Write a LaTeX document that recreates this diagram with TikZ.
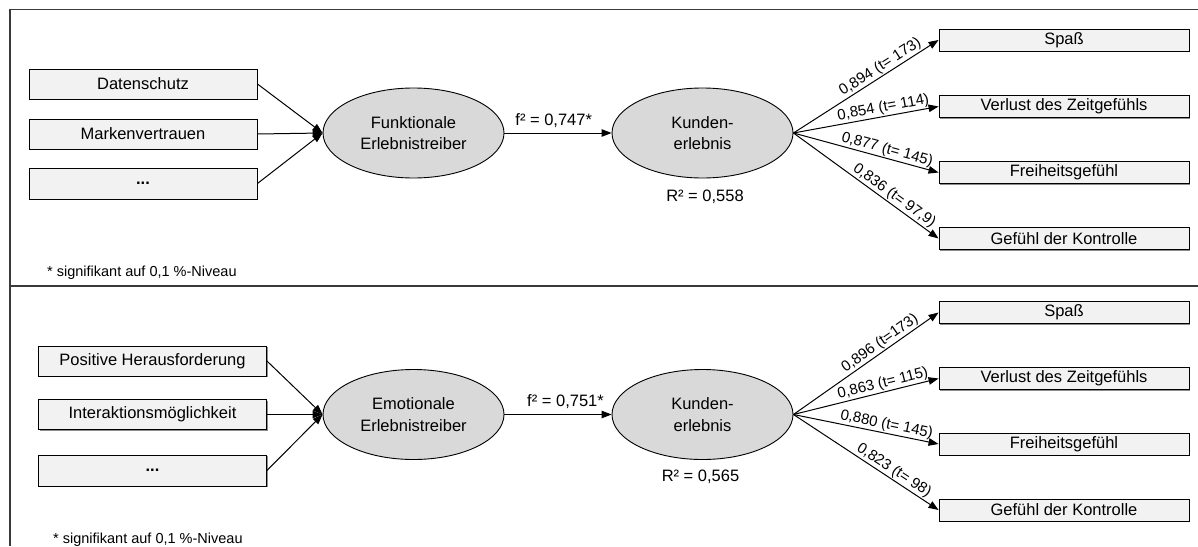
\documentclass[tikz,border=0pt]{standalone}
\usepackage{fontspec}
\setmainfont{Liberation Sans}
\usetikzlibrary{arrows.meta,shadows,shapes.geometric}
\definecolor{boxfill}{HTML}{F2F2F2}
\definecolor{ellfill}{HTML}{D9D9D9}
\definecolor{framecol}{HTML}{3A3A3A}
\begin{document}
\begin{tikzpicture}[x=1pt,y=-1pt,
 ind/.style={draw=black, line width=0.9pt, fill=boxfill, minimum width=228pt, minimum height=30pt, inner sep=0pt,
   font=\fontsize{16.5}{20}\selectfont,
   drop shadow={shadow xshift=1.2pt,shadow yshift=-1.2pt,fill=black!45,opacity=1}},
 outbox/.style={ind, minimum width=250pt, minimum height=22pt},
 lat/.style={ellipse, draw=black, fill=ellfill, line width=0.9pt, minimum width=181pt, minimum height=90pt,
   inner sep=0pt, align=center, font=\fontsize{16.5}{21.5}\selectfont},
 arr/.style={line width=1pt, -{Triangle[length=10pt,width=7.5pt]}},
 lab/.style={sloped, above, pos=0.63, font=\fontsize{15}{16}\selectfont, inner sep=1pt},
 plain/.style={font=\fontsize{16.5}{20}\selectfont, inner sep=0pt},
 note/.style={font=\fontsize{14.5}{16}\selectfont, anchor=west, inner sep=0pt}
]
\useasboundingbox (0,0) rectangle (1198,546);
% frame
\draw[framecol, line width=1.5pt] (1198,9.5) -- (10,9.5) -- (10,546);
\draw[framecol, line width=1.5pt] (10,286) -- (1198,286);

% ---------- top panel ----------
\node[ind] (d1) at (143,84) {Datenschutz};
\node[ind] (d2) at (143,134) {Markenvertrauen};
\node[ind, minimum height=31pt] (d3) at (143,183.5) {\textbf{...}};
\node[lat] (F) at (413.5,133) {Funktionale\\Erlebnistreiber};
\node[lat] (K) at (702.5,133) {Kunden-\\erlebnis};
\node[outbox] (o1) at (1064,40) {Spaß};
\node[outbox] (o2) at (1064,106.5) {Verlust des Zeitgefühls};
\node[outbox] (o3) at (1064,172.5) {Freiheitsgefühl};
\node[outbox] (o4) at (1064,238.5) {Gefühl der Kontrolle};
\node[plain] (r1) at (705,196.5) {R² = 0,558};
\node[note] (n1) at (47,273) {* signifikant auf 0,1 \%-Niveau};

\draw[arr] (d1.east) -- (F.west);
\draw[arr] (d2.east) -- (F.west);
\draw[arr] (d3.east) -- (F.west);
\draw[arr] (F.east) -- node[plain, above=5pt, pos=0.46]{f² = 0,747*} (K.west);
\draw[arr] (K.east) -- node[lab]{0,894 (t= 173)} (o1.west);
\draw[arr] (K.east) -- node[lab]{0,854 (t= 114)} (o2.west);
\draw[arr] (K.east) -- node[lab]{0,877 (t= 145)} (o3.west);
\draw[arr] (K.east) -- node[lab, pos=0.66]{0,836 (t= 97,9)} (o4.west);

% ---------- bottom panel ----------
\node[ind] (e1) at (152.5,361) {Positive Herausforderung};
\node[ind] (e2) at (152.5,414.5) {Interaktionsmöglichkeit};
\node[ind, minimum height=31pt] (e3) at (152.5,470.5) {\textbf{...}};
\node[lat] (E) at (413.5,414.5) {Emotionale\\Erlebnistreiber};
\node[lat] (K2) at (702.5,414.5) {Kunden-\\erlebnis};
\node[outbox] (p1) at (1064,312.5) {Spaß};
\node[outbox] (p2) at (1064,378.5) {Verlust des Zeitgefühls};
\node[outbox] (p3) at (1064,444) {Freiheitsgefühl};
\node[outbox] (p4) at (1064,510) {Gefühl der Kontrolle};
\node[plain] (r2) at (700.5,476.5) {R² = 0,565};
\node[note] (n2) at (53,540) {* signifikant auf 0,1 \%-Niveau};

\draw[arr] (e1.east) -- (E.west);
\draw[arr] (e2.east) -- (E.west);
\draw[arr] (e3.east) -- (E.west);
\draw[arr] (E.east) -- node[plain, above=5pt, pos=0.57]{f² = 0,751*} (K2.west);
\draw[arr] (K2.east) -- node[lab]{0,896 (t=173)} (p1.west);
\draw[arr] (K2.east) -- node[lab]{0,863 (t= 115)} (p2.west);
\draw[arr] (K2.east) -- node[lab]{0,880 (t= 145)} (p3.west);
\draw[arr] (K2.east) -- node[lab, pos=0.66]{0,823 (t= 98)} (p4.west);
\end{tikzpicture}
\end{document}
